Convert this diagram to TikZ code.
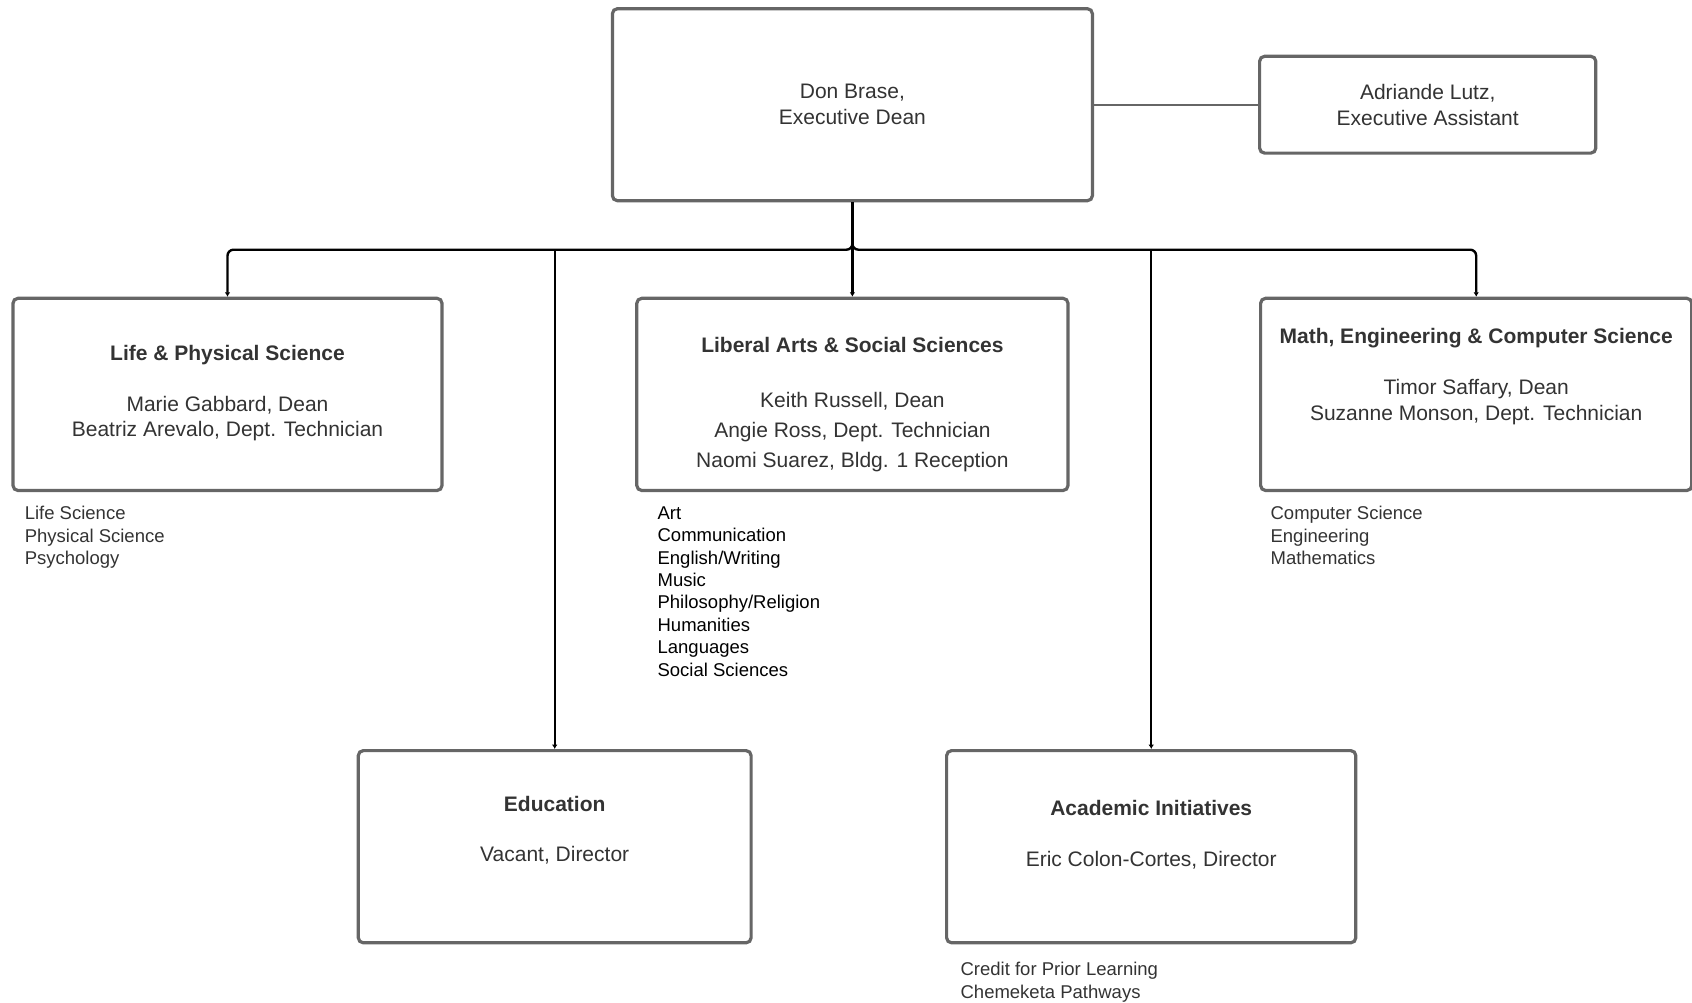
\documentclass[tikz,border=0pt]{standalone}
\usepackage{fontspec}
\setmainfont{Liberation Sans}
\usetikzlibrary{arrows.meta,positioning}
\definecolor{boxline}{HTML}{666666}
\definecolor{ink}{HTML}{333333}

\begin{document}
\begin{tikzpicture}[
    x=0.5pt, y=-0.5pt,
    every node/.style={text=ink},
    unit/.style={rectangle, draw=boxline, line width=1.6pt, rounded corners=2.5pt, fill=white, minimum width=215.6pt, minimum height=96.1pt},
    unittext/.style={align=center, inner sep=0pt, font=\fontsize{10.5}{12.85}\selectfont},
    deptlist/.style={align=left, inner sep=0pt, font=\fontsize{9.25}{11.15}\selectfont},
    link/.style={line width=1.2pt, rounded corners=3pt, -{Latex[length=2.2pt,width=2.8pt]}},
    aide/.style={draw=boxline, line width=1pt}
]
    \useasboundingbox (0,0) rectangle (1692,1002);

    % Executive office
    \node[unit, unittext, inner sep=3pt, minimum width=240pt, minimum height=96pt] (exec) at (852.4,104.7) {Don Brase,\\ Executive Dean};
    \node[unit, unittext, inner sep=3pt, font=\fontsize{10.5}{12.8}\selectfont, minimum width=168.1pt, minimum height=48.4pt, right=82pt of exec] (assist) {Adriande Lutz,\\ Executive Assistant};

    % Divisions
    \node[unit, below=47.2pt of exec] (lass) {};
    \node[unit, minimum width=214.5pt, left=95.8pt of lass] (lps) {};
    \node[unit, right=94.7pt of lass] (mecs) {};
    \node[unit, minimum width=196.4pt] (edu) at (554.7,846.7) {};
    \node[unit, minimum width=204.6pt] (acad) at (1151.2,846.7) {};

    \node[unittext, below=24pt of lps.north] (lpstext) {\textbf{Life \& Physical Science}\\[12.6pt] Marie Gabbard, Dean\\ Beatriz Arevalo, Dept. Technician};
    \node[unittext, below=20.3pt of lass.north] (lasstext) {\textbf{Liberal Arts \& Social Sciences}\\[14.6pt] Keith Russell, Dean\\[2.1pt] Angie Ross, Dept. Technician\\[2.1pt] Naomi Suarez, Bldg. 1 Reception};
    \node[unittext, below=15.8pt of mecs.north] (mecstext) {\textbf{Math, Engineering \& Computer Science}\\[12.45pt] Timor Saffary, Dean\\ Suzanne Monson, Dept. Technician};
    \node[unittext, below=23.2pt of edu.north] (edutext) {\textbf{Education}\\[12.6pt] Vacant, Director};
    \node[unittext, below=25.6pt of acad.north] (acadtext) {\textbf{Academic Initiatives}\\[12.6pt] Eric Colon-Cortes, Director};

    % Department lists
    \node[deptlist, below right=7pt and 6.5pt of lps.south west] (lpslist) {Life Science\\ Physical Science\\ Psychology};
    \node[deptlist, text=black, font=\fontsize{9.25}{11.2}\selectfont, below right=7pt and 11pt of lass.south west] (lasslist) {Art\\ Communication\\ English/Writing\\ Music\\ Philosophy/Religion\\ Humanities\\ Languages\\ Social Sciences};
    \node[deptlist, below right=7pt and 5.6pt of mecs.south west] (mecslist) {Computer Science\\ Engineering\\ Mathematics};
    \node[deptlist, below right=8.8pt and 7.6pt of acad.south west] (acadlist) {Credit for Prior Learning\\ Chemeketa Pathways};

    % Reporting lines
    \coordinate[below=23.7pt of exec.south] (hub);
    \draw[aide] (exec.east) -- (assist.west);
    \draw[link] (exec.south) -- (hub) -| (lps.north);
    \draw[link] (exec.south) -- (hub) -| (mecs.north);
    \draw[link] (exec.south) -- (lass.north);
    \draw[link] (hub -| edu.north) -- (edu.north);
    \draw[link] (hub -| acad.north) -- (acad.north);

\end{tikzpicture}
\end{document}
